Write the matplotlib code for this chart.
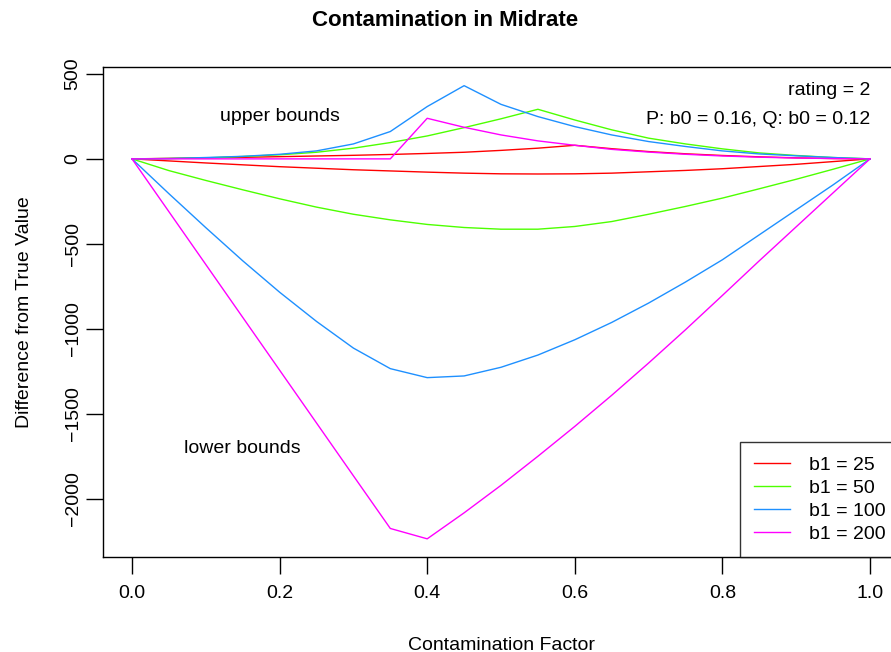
import matplotlib
matplotlib.use('Agg')
import matplotlib.pyplot as plt

plt.rcParams['font.family'] = ['Liberation Sans', 'DejaVu Sans']

# contamination factor grid
x = [0.0, 0.05, 0.1, 0.15, 0.2, 0.25, 0.3, 0.35, 0.4, 0.45, 0.5,
     0.55, 0.6, 0.65, 0.7, 0.75, 0.8, 0.85, 0.9, 0.95, 1.0]

# upper / lower bounds per b1
red_hi = [0, 3, 6, 9, 13, 17, 21, 26, 32, 39, 50, 63, 80, 60, 43, 30, 20, 12, 6, 2, 0]
red_lo = [0, -12, -24, -35, -46, -55, -64, -71, -78, -84, -88, -89, -88, -84, -76, -68, -58, -45, -32, -16, 0]
green_hi = [0, 2, 6, 14, 24, 39, 63, 96, 135, 184, 236, 292, 229, 171, 122, 88, 59, 35, 20, 8, 0]
green_lo = [0, -69, -127, -182, -235, -284, -326, -359, -386, -404, -414, -414, -398, -369, -326, -280, -231, -176, -120, -61, 0]
blue_hi = [0, 2, 8, 15, 27, 47, 88, 161, 308, 431, 321, 249, 190, 141, 102, 73, 47, 29, 18, 8, 0]
blue_lo = [0, -205, -405, -600, -785, -957, -1114, -1235, -1288, -1278, -1227, -1155, -1065, -963, -849, -725, -594, -447, -300, -153, 0]
mag_hi = [0, 0, 0, 0, 0, 0, 0, 0, 239, 186, 141, 106, 80, 56, 40, 27, 17, 10, 5, 2, 0]
mag_lo = [0, -311, -622, -933, -1244, -1555, -1866, -2176, -2237, -2084, -1922, -1751, -1575, -1392, -1202, -1006, -804, -600, -400, -200, 0]

labels = ['b1 = 25', 'b1 = 50', 'b1 = 100', 'b1 = 200']
colors = ['#FF0000', '#4DFF00', '#1E90FF', '#FF00FF']
xticks = [0.0, 0.2, 0.4, 0.6, 0.8, 1.0]
yticks = [-2000, -1500, -1000, -500, 0, 500]

fig = plt.figure(figsize=(8.91, 6.52), dpi=100)
ax = fig.add_axes([102.5 / 891, 95 / 652, 797 / 891, 489.5 / 652])

series = [(red_hi, red_lo), (green_hi, green_lo), (blue_hi, blue_lo), (mag_hi, mag_lo)]
for (hi, lo), c, lab in zip(series, colors, labels):
    ax.plot(x, lo, color=c, lw=1.0, label=lab)
    ax.plot(x, hi, color=c, lw=1.0)

ax.set_xlim(-0.04, 1.04)
ax.set_ylim(-2344, 538)
ax.set_xticks(xticks)
ax.set_xticklabels(['%.1f' % t for t in xticks])
ax.set_yticks(yticks)
ax.set_yticklabels(['\u2212%d' % -t if t < 0 else '%d' % t for t in yticks],
                   rotation=90, va='center')
ax.tick_params(direction='out', length=12, width=1.0, labelsize=14, pad=8, colors='black')
ax.tick_params(axis='y', pad=3)
for s in ax.spines.values():
    s.set_linewidth(1.0)
    s.set_color('black')

ax.set_xlabel('Contamination Factor', fontsize=14, labelpad=25)
ax.set_ylabel('Difference from True Value', fontsize=14, labelpad=23)
fig.suptitle('Contamination in Midrate', fontsize=16, fontweight='bold', y=0.984)

ax.text(0.2, 250, 'upper bounds', fontsize=14, ha='center', va='center')
ax.text(0.15, -1705, 'lower bounds', fontsize=14, ha='center', va='center')
ax.text(1.0, 405, 'rating = 2', fontsize=14, ha='right', va='center')
ax.text(1.0, 230, 'P: b0 = 0.16, Q: b0 = 0.12', fontsize=14, ha='right', va='center')

leg = ax.legend(loc='lower right', fontsize=14, frameon=True, fancybox=False,
                borderaxespad=0, borderpad=0.72, labelspacing=0.28,
                handlelength=1.85, handletextpad=0.95)
leg.get_frame().set_edgecolor('black')
leg.get_frame().set_linewidth(1.0)

fig.savefig('out.png', dpi=100)
